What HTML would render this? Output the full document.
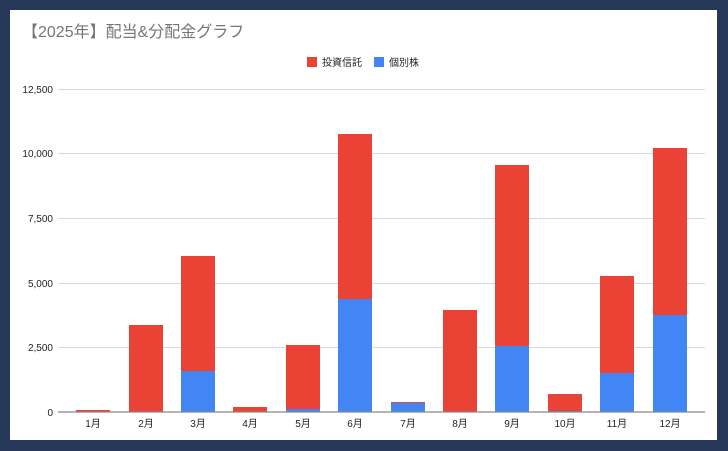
<!DOCTYPE html>
<html><head><meta charset="utf-8"><style>
html,body{margin:0;padding:0;background:#253858;}
body{width:728px;height:451px;overflow:hidden;position:relative;}
svg{position:absolute;left:0;top:0;}
text{font-family:"Liberation Sans","Noto Sans CJK JP",sans-serif;}
</style></head><body>
<svg width="728" height="451" viewBox="0 0 728 451">
<rect x="0" y="0" width="728" height="451" fill="#253858"/>
<rect x="10" y="10" width="707" height="430" fill="#ffffff"/>
<text x="22" y="37" font-size="16" fill="#757575">【2025年】配当&amp;分配金グラフ</text>
<rect x="307" y="57" width="10" height="10" fill="#ea4335"/>
<text x="322" y="66" font-size="10" fill="#222">投資信託</text>
<rect x="374" y="57" width="10" height="10" fill="#4285f4"/>
<text x="389" y="66" font-size="10" fill="#222">個別株</text>
<g stroke="#d9d9d9" stroke-width="1">
<line x1="58" x2="705" y1="89.5" y2="89.5"/>
<line x1="58" x2="705" y1="153.5" y2="153.5"/>
<line x1="58" x2="705" y1="218.5" y2="218.5"/>
<line x1="58" x2="705" y1="283.5" y2="283.5"/>
<line x1="58" x2="705" y1="347.5" y2="347.5"/>
</g>
<g font-size="10" fill="#222" text-anchor="end">
<text x="53" y="93">12,500</text>
<text x="53" y="157">10,000</text>
<text x="53" y="222">7,500</text>
<text x="53" y="287">5,000</text>
<text x="53" y="351">2,500</text>
<text x="53" y="416">0</text>
</g>
<g>
<!-- red totals -->
<rect x="76" y="410" width="34" height="2" fill="#ea4335"/>
<rect x="129" y="325" width="34" height="87" fill="#ea4335"/>
<rect x="181" y="256" width="34" height="156" fill="#ea4335"/>
<rect x="233" y="407" width="34" height="5" fill="#ea4335"/>
<rect x="286" y="345" width="34" height="67" fill="#ea4335"/>
<rect x="338" y="134" width="34" height="278" fill="#ea4335"/>
<rect x="391" y="402" width="34" height="10" fill="#ea4335"/>
<rect x="443" y="310" width="34" height="102" fill="#ea4335"/>
<rect x="495" y="165" width="34" height="247" fill="#ea4335"/>
<rect x="548" y="394" width="34" height="18" fill="#ea4335"/>
<rect x="600" y="276" width="34" height="136" fill="#ea4335"/>
<rect x="653" y="148" width="34" height="264" fill="#ea4335"/>
<!-- blue -->
<rect x="181" y="371" width="34" height="41" fill="#4285f4"/>
<rect x="286" y="409" width="34" height="3" fill="#4285f4"/>
<rect x="338" y="299" width="34" height="113" fill="#4285f4"/>
<rect x="391" y="403" width="34" height="9" fill="#4285f4"/>
<rect x="495" y="346" width="34" height="66" fill="#4285f4"/>
<rect x="548" y="411" width="34" height="1" fill="#4285f4"/>
<rect x="600" y="373" width="34" height="39" fill="#4285f4"/>
<rect x="653" y="315" width="34" height="97" fill="#4285f4"/>
</g>
<line x1="58" x2="705" y1="412" y2="412" stroke="#888" stroke-width="1.3"/>
<g font-size="10" fill="#222" text-anchor="middle">
<text x="93" y="427">1月</text><text x="146" y="427">2月</text><text x="198" y="427">3月</text>
<text x="250" y="427">4月</text><text x="303" y="427">5月</text><text x="355" y="427">6月</text>
<text x="408" y="427">7月</text><text x="460" y="427">8月</text><text x="512" y="427">9月</text>
<text x="565" y="427">10月</text><text x="617" y="427">11月</text><text x="670" y="427">12月</text>
</g>
</svg>
</body></html>
